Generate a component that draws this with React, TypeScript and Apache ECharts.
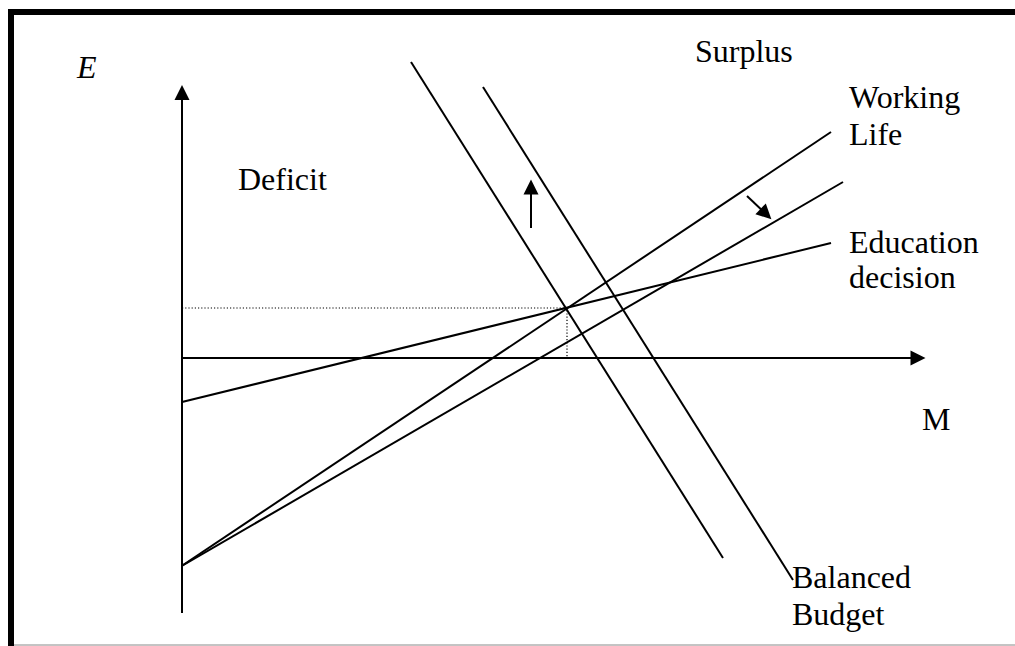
import React, { useEffect, useRef } from "react";
import * as echarts from "echarts";

// Coordinates in chart units (M horizontal, E vertical); origin at axis crossing.
const eAxis: number[][] = [[0, -5.1], [0, 5.3]];
const mAxis: number[][] = [[0, 0], [14.7, 0]];
const educationDecision: number[][] = [[0, -0.88], [12.98, 2.3]];
const workingLife: number[][] = [[-0.04, -4.18], [12.98, 4.52]];
const workingLifeShifted: number[][] = [[-0.04, -4.18], [13.22, 3.52]];
const balancedBudget: number[][] = [[4.58, 5.92], [10.82, -4.0]];
const balancedBudgetShifted: number[][] = [[6.02, 5.42], [12.22, -4.44]];
const equilibriumGuide: number[][] = [[0, 1], [7.7, 1], [7.7, 0]];
const budgetShiftArrow: number[][] = [[6.98, 2.6], [6.98, 3.4]];
const workingShiftArrow: number[][] = [[11.3, 3.24], [11.68, 2.88]];
// arrowhead centres: [M, E, rotation in degrees]
const arrowHeads: number[][] = [
  [0, 5.31, 0],
  [14.72, 0, -90],
  [6.98, 3.42, 0],
  [11.68, 2.88, -134],
];

const labels = [
  { text: "E", x: 77, y: 67, italic: true },
  { text: "Deficit", x: 238, y: 179 },
  { text: "Surplus", x: 695, y: 51 },
  { text: "Working", x: 849, y: 97 },
  { text: "Life", x: 849, y: 134 },
  { text: "Education", x: 849, y: 242 },
  { text: "decision", x: 849, y: 277 },
  { text: "M", x: 922, y: 419 },
  { text: "Balanced", x: 792, y: 577 },
  { text: "Budget", x: 792, y: 614 },
];

const FONT = "'Liberation Serif', 'Times New Roman', serif";

export default function App() {
  const ref = useRef<HTMLDivElement>(null);
  useEffect(() => {
    if (!ref.current) return;
    const chart = echarts.init(ref.current, undefined, { renderer: "svg" });
    const solid = (name: string, data: number[][], width = 2) => ({
      name,
      type: "line",
      data,
      symbol: "none",
      silent: true,
      lineStyle: { color: "#000", width },
    });
    chart.setOption({
      animation: false,
      backgroundColor: "#fff",
      grid: { left: 182, right: 33, top: 58, bottom: 13 },
      xAxis: { type: "value", min: 0, max: 16, show: false },
      yAxis: { type: "value", min: -5.5, max: 6, show: false },
      series: [
        solid("E axis", eAxis),
        solid("M axis", mAxis),
        {
          name: "equilibrium",
          type: "line",
          data: equilibriumGuide,
          symbol: "none",
          silent: true,
          lineStyle: { color: "#000", width: 1.2, type: [1.2, 2] },
        },
        solid("Education decision", educationDecision),
        solid("Working Life", workingLife),
        solid("Working Life shifted", workingLifeShifted),
        solid("Balanced Budget", balancedBudget),
        solid("Balanced Budget shifted", balancedBudgetShifted),
        solid("budget shift", budgetShiftArrow),
        solid("working shift", workingShiftArrow),
        {
          name: "arrowheads",
          type: "scatter",
          silent: true,
          data: arrowHeads.map((a) => ({
            value: [a[0], a[1]],
            symbolRotate: a[2],
          })),
          symbol: "triangle",
          symbolSize: [15, 15],
          itemStyle: { color: "#000", opacity: 1 },
        },
      ],
      graphic: [
        { type: "rect", shape: { x: 8, y: 9, width: 6, height: 637 }, style: { fill: "#000" }, silent: true },
        { type: "rect", shape: { x: 8, y: 9, width: 1007, height: 6 }, style: { fill: "#000" }, silent: true },
        { type: "line", shape: { x1: 14, y1: 645, x2: 1015, y2: 645 }, style: { stroke: "#888", lineWidth: 1 }, silent: true },
        ...labels.map((l) => ({
          type: "text",
          x: l.x,
          y: l.y,
          silent: true,
          style: {
            text: l.text,
            fill: "#000",
            font: `${l.italic ? "italic " : ""}32px ${FONT}`,
            align: "left",
            verticalAlign: "middle",
          },
        })),
      ],
    });
    return () => chart.dispose();
  }, []);
  return (
    <div
      ref={ref}
      style={{ position: "fixed", left: 0, top: 0, width: 1015, height: 646, background: "#fff" }}
    />
  );
}
